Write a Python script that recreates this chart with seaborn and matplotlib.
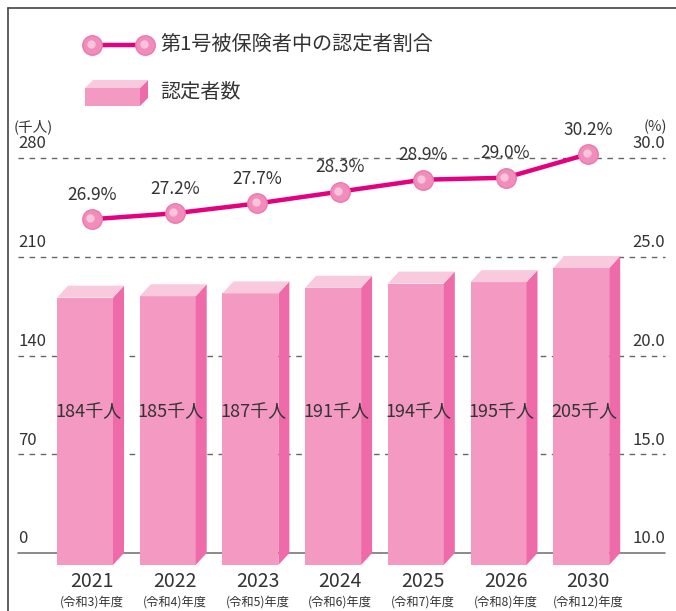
import numpy as np
import pandas as pd
import matplotlib.pyplot as plt
import seaborn as sns
from matplotlib.patches import Polygon
from matplotlib.lines import Line2D

sns.set_style("white")
plt.rcParams['font.family'] = ['Noto Sans CJK JP', 'DejaVu Sans']

# data
years = ["2021", "2022", "2023", "2024", "2025", "2026", "2030"]
eras = ["(令和3)年度", "(令和4)年度", "(令和5)年度", "(令和6)年度",
        "(令和7)年度", "(令和8)年度", "(令和12)年度"]
counts = [184, 185, 187, 191, 194, 195, 205]          # 千人
ratio = [26.9, 27.2, 27.7, 28.3, 28.9, 29.0, 30.2]     # %
left_ticks = [0, 70, 140, 210, 280]
right_ticks = [10.0, 15.0, 20.0, 25.0, 30.0]

TEXT = '#333333'
FRONT = '#F49AC2'
SIDE = '#EF6AA8'
TOP = '#F9CADD'
LINE = '#E4007F'
MFACE = '#F08DBA'

W, H = 676, 611
fig = plt.figure(figsize=(W / 100, H / 100), dpi=100)
ax = fig.add_axes([0, 0, 1, 1])

df = pd.DataFrame({'year': years, 'count': counts, 'ratio': ratio})

# pixel geometry -> data units
ux = 82.7            # px per category
uy = 98.75 / 70      # px per 千人
x0_px, y0_px = 92, 553

sns.barplot(data=df, x='year', y='count', color=FRONT, width=56 / ux,
            saturation=1, ax=ax, zorder=3, linewidth=0)

dx = 11 / ux
dy = 12 / uy
for p in ax.patches:
    h = p.get_height()
    p.set_x(p.get_x() - 7 / ux)
    p.set_y(-8.5)
    p.set_height(h - 3 + 8.5)
    xl = p.get_x()
    xr = xl + p.get_width()
    yb = p.get_y()
    yt = yb + p.get_height()
    ax.add_patch(Polygon([(xr, yb), (xr + dx, yb + dy), (xr + dx, yt + dy), (xr, yt)],
                         closed=True, fc=SIDE, ec='none', zorder=3))
    ax.add_patch(Polygon([(xl, yt), (xr, yt), (xr + dx, yt + dy), (xl + dx, yt + dy)],
                         closed=True, fc=TOP, ec='none', zorder=3))

xmin = (0 - x0_px) / ux
xmax = (W - x0_px) / ux
ymin = (y0_px - H) / uy
ymax = y0_px / uy
ax.set_xlim(xmin, xmax)
ax.set_ylim(ymin, ymax)
ax.axis('off')

gx0 = (18 - x0_px) / ux
gx1 = (665 - x0_px) / ux
for t in left_ticks:
    if t == 0:
        ax.plot([gx0, gx1], [t, t], color='#777777', lw=1.2, zorder=1)
    else:
        ax.plot([gx0, gx1], [t, t], color='#666666', lw=1.0, ls=(0, (4, 4)), zorder=1)
    ax.text(gx0, t + 4, str(t), ha='left', va='bottom', fontsize=12, color=TEXT)
for t, r in zip(left_ticks, right_ticks):
    ax.text(gx1, t + 4, f"{r:.1f}", ha='right', va='bottom', fontsize=12, color=TEXT)
ax.text(gx0 - 4 / ux, 280 + 17, "(千人)", ha='left', va='bottom', fontsize=10.5, color=TEXT)
ax.text(gx1 + 2 / ux, 280 + 17, "(%)", ha='right', va='bottom', fontsize=10.5, color=TEXT)

# labels in bars and years
for i, (c, yr, era) in enumerate(zip(counts, years, eras)):
    ax.text(i - 4 / ux, 100, f"{c}千人", ha='center', va='center', fontsize=13,
            color=TEXT, zorder=5)
    ax.text(i, -20.5, yr, ha='center', va='center', fontsize=14, color=TEXT)
    ax.text(i, -34.5, era, ha='center', va='center', fontsize=8.8, color=TEXT)

# ratio line on right scale: pct = 10 + value / 14
ax2 = ax.twinx()
ax2.set_position([0, 0, 1, 1])
ax2.set_xlim(xmin, xmax)
ax2.set_ylim(10 + ymin / 14, 10 + ymax / 14)
ax2.axis('off')
xs = np.arange(len(years))
sns.lineplot(x=xs, y=ratio, ax=ax2, color=LINE, lw=3.2, marker='o', markersize=14,
             markerfacecolor=MFACE, markeredgecolor='#EE78AE', markeredgewidth=1,
             zorder=6)
ax2.plot(xs - 0.02, np.array(ratio) + 0.05, 'o', ms=6, color='#F8C4DC', zorder=7,
         markeredgewidth=0)
for x, r in zip(xs, ratio):
    ax2.annotate(f"{r:.1f}%", (x, r), xytext=(0, 11), textcoords='offset points',
                 ha='center', va='bottom', fontsize=12.5, color=TEXT)

# legend
def fx(px):
    return px / W

def fy(py):
    return 1 - py / H

fig.add_artist(Line2D([fx(92), fx(145)], [fy(45), fy(45)], color=LINE, lw=3.2,
                      marker='o', ms=14, markerfacecolor=MFACE,
                      markeredgecolor='#EE78AE', markeredgewidth=1, zorder=6))
fig.add_artist(Line2D([fx(91), fx(144)], [fy(44), fy(44)], lw=0, marker='o', ms=6,
                      color='#F8C4DC', markeredgewidth=0, zorder=7))
fig.text(fx(160), fy(45), "第1号被保険者中の認定者割合", ha='left', va='center',
         fontsize=14.5, color=TEXT)
fig.add_artist(Polygon([(fx(85), fy(88)), (fx(140), fy(88)), (fx(140), fy(106)), (fx(85), fy(106))],
                       closed=True, fc=FRONT, ec='none', transform=fig.transFigure))
fig.add_artist(Polygon([(fx(140), fy(88)), (fx(148), fy(80)), (fx(148), fy(98)), (fx(140), fy(106))],
                       closed=True, fc=SIDE, ec='none', transform=fig.transFigure))
fig.add_artist(Polygon([(fx(85), fy(88)), (fx(93), fy(80)), (fx(148), fy(80)), (fx(140), fy(88))],
                       closed=True, fc=TOP, ec='none', transform=fig.transFigure))
fig.text(fx(160), fy(93), "認定者数", ha='left', va='center', fontsize=14.5, color=TEXT)

# frame
fig.add_artist(Line2D([fx(8), fx(8)], [fy(8), fy(611)], color='#444444', lw=1.2))
fig.add_artist(Line2D([fx(8), fx(676)], [fy(8), fy(8)], color='#444444', lw=1.2))

fig.savefig("out.png", dpi=100)
